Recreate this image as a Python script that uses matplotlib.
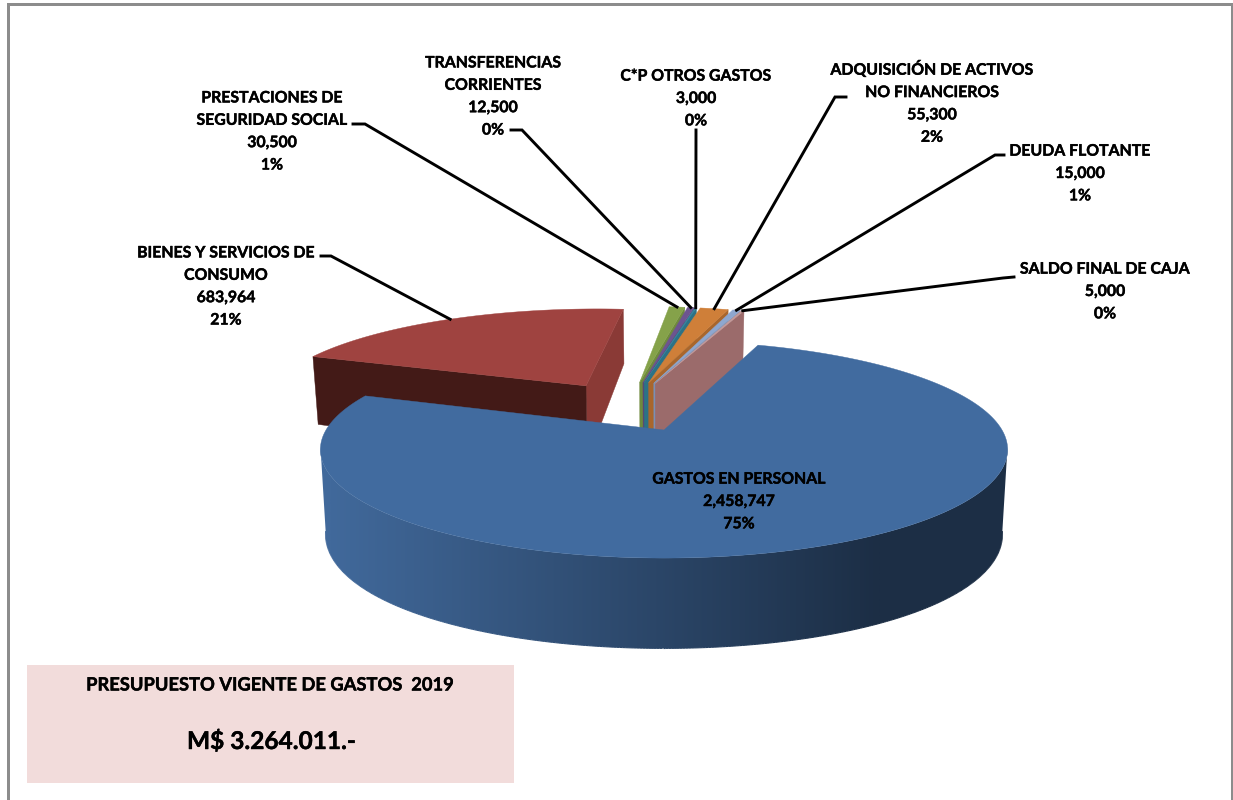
import numpy as np
import matplotlib
matplotlib.use("Agg")
import matplotlib.pyplot as plt
import matplotlib.patheffects as pe
from matplotlib.patches import Polygon, Rectangle
from matplotlib.collections import LineCollection
from matplotlib.colors import LinearSegmentedColormap

categories = ["GASTOS EN PERSONAL", "BIENES Y SERVICIOS DE\nCONSUMO",
              "PRESTACIONES DE\nSEGURIDAD SOCIAL", "TRANSFERENCIAS\nCORRIENTES",
              "C*P OTROS GASTOS", "ADQUISICIÓN DE ACTIVOS\nNO FINANCIEROS",
              "DEUDA FLOTANTE", "SALDO FINAL DE CAJA"]
values = [2458747, 683964, 30500, 12500, 3000, 55300, 15000, 5000]
percent_labels = ["75%", "21%", "1%", "0%", "0%", "2%", "1%", "0%"]
top_colors = ["#416b9f", "#9f4340", "#85a24a", "#6d5490", "#35879f", "#cf7f39", "#8ea7cf", "#c79a98"]
wall_colors = ["#1c2e45", "#8a3a36", "#6f8a3d", "#5a4578", "#2c7286", "#a9662c", "#7a90b5", "#9b6b6b"]
label_pos = [(739, 502), (226, 287), (272, 132), (493, 97), (696, 99), (932, 103), (1080, 174), (1105, 292)]
kinks = [None, ((321, 256), (331, 256)), ((353, 124), (365, 124)), ((511, 130), (522, 130)),
         ((696, 130), (696, 131)), ((846, 97), (835, 97)), ((1004, 155), (995, 155)), ((1014, 277), (1003, 278))]

W, H = 1233, 800
CX, CY, A, B, K = 664, 430, 338, 105, 0.18
Y0, B2, K2, SX = 512, 120, 0.12, 0.985
EXPL = 0.26
START = 71.0


def top(x, y):
    w = 1 + K * y
    return np.column_stack([CX + A * x / w, CY - B * y / w])


def bottom(x, y):
    w = 1 + K * y
    w2 = 1 + K2 * y
    return np.column_stack([CX + SX * A * x / w, Y0 - B2 * y / w2])


fig = plt.figure(figsize=(W / 100, H / 100), dpi=100)
ax = fig.add_axes([0, 0, 1, 1])
ax.set_xlim(0, W)
ax.set_ylim(H, 0)
ax.axis("off")
plt.rcParams["font.family"] = ["Lato", "DejaVu Sans"]
heft = [pe.withStroke(linewidth=0.3, foreground="black")]

# frame
for r in [(7, 3, 3, H), (7, 3, W - 7, 2.5), (W - 2.5, 3, 2.5, H)]:
    ax.add_patch(Rectangle(r[:2], r[2], r[3], fc="#8c8c8c", ec="none", zorder=1))

total = sum(values)
spans = [v / total * 360 for v in values]
C = np.array([-EXPL * np.cos(np.radians(START - spans[0] / 2)),
              -EXPL * np.sin(np.radians(START - spans[0] / 2))])

wedges = []
a0 = START
for s in spans:
    a1 = a0 - s
    mid = np.radians((a0 + a1) / 2)
    apex = C + EXPL * np.array([np.cos(mid), np.sin(mid)])
    wedges.append((a0, a1, apex, mid))
    a0 = a1


def arc(apex, a0, a1, n=200):
    t = np.radians(np.linspace(a0, a1, n))
    return apex[0] + np.cos(t), apex[1] + np.sin(t)


wall_cmap = LinearSegmentedColormap.from_list("wall", ["#41699b", wall_colors[0]])
z = 10
for i in list(range(1, len(values))) + [0]:
    a0, a1, apex, mid = wedges[i]
    ax_, ay_ = arc(apex, a0, a1, 400 if i == 0 else 60)
    if i == 0:
        # outer wall of the large wedge: horizontal shade clipped to the wall's outline
        wx, wy = arc(apex, -9, -171, 400)
        tp, bt = top(wx, wy), bottom(wx, wy)
        outline = Polygon(np.vstack([tp, bt[::-1]]), fc="none", ec="none", zorder=z)
        ax.add_patch(outline)
        shade = np.linspace(0, 1, 256)[None, :]
        im = ax.imshow(shade, cmap=wall_cmap, extent=(330, 880, 700, 300), aspect="auto", zorder=z)
        left = ax.imshow(np.zeros((1, 1)), cmap=wall_cmap, vmin=0, vmax=1, extent=(300, 330, 700, 300), aspect="auto", zorder=z)
        right = ax.imshow(np.ones((1, 1)), cmap=wall_cmap, vmin=0, vmax=1, extent=(880, 1030, 700, 300), aspect="auto", zorder=z)
        for artist in (im, left, right):
            artist.set_clip_path(outline)
        ax.set_xlim(0, W)
        ax.set_ylim(H, 0)
        segs = np.stack([bt[:-1], bt[1:]], axis=1)
        fr = np.clip((bt[:-1, 0] - 330) / 550, 0, 1)
        ax.add_collection(LineCollection(segs, colors=wall_cmap(fr), linewidths=0.8, zorder=z))
        z += 1
    else:
        ex, ey = apex[0] + np.cos(np.radians(a1)), apex[1] + np.sin(np.radians(a1))
        xs, ys = np.array([apex[0], ex]), np.array([apex[1], ey])
        t2, b2 = top(xs, ys), bottom(xs, ys)
        ax.add_patch(Polygon([t2[0], t2[1], b2[1], b2[0]], fc=wall_colors[i], ec=wall_colors[i], lw=0.3, zorder=z))
        z += 1
        if i == 1:
            ex, ey = apex[0] + np.cos(np.radians(a0)), apex[1] + np.sin(np.radians(a0))
            xs, ys = np.array([apex[0], ex]), np.array([apex[1], ey])
            t2, b2 = top(xs, ys), bottom(xs, ys)
            ax.add_patch(Polygon([t2[0], t2[1], b2[1], b2[0]], fc="#431a17", ec="#431a17", lw=0.3, zorder=z))
            z += 1
    face = top(np.r_[apex[0], ax_], np.r_[apex[1], ay_])
    ax.add_patch(Polygon(face, fc=top_colors[i], ec=top_colors[i], lw=0.3, zorder=z))
    z += 1

# leader lines and labels
for i, (name, v, pct) in enumerate(zip(categories, values, percent_labels)):
    a0, a1, apex, mid = wedges[i]
    if kinks[i] is not None:
        end = top(np.array([apex[0] + np.cos(mid)]), np.array([apex[1] + np.sin(mid)]))[0]
        k0, k1 = kinks[i]
        ax.plot([k0[0], k1[0], end[0]], [k0[1], k1[1], end[1]], color="black", lw=2.1,
                solid_joinstyle="miter", zorder=60)
    x, y = label_pos[i]
    ax.text(x, y, f"{name}\n{v:,}\n{pct}", ha="center", va="center", ma="center",
            fontsize=11.4, fontweight="bold", color="black", linespacing=1.76, zorder=70,
            path_effects=heft)

# summary box
ax.add_patch(Rectangle((27, 665), 487, 118, fc="#f2dcdb", ec="none", zorder=5))
ax.text(271, 685, "PRESUPUESTO VIGENTE DE GASTOS  2019", ha="center", va="center",
        fontsize=13.2, fontweight="bold", color="black", zorder=70, path_effects=heft)
ax.text(271, 741, "M$ 3.264.011.-", ha="center", va="center",
        fontsize=17.6, fontweight="bold", color="black", zorder=70, path_effects=heft)

fig.savefig("out.png", dpi=100, facecolor="white")
